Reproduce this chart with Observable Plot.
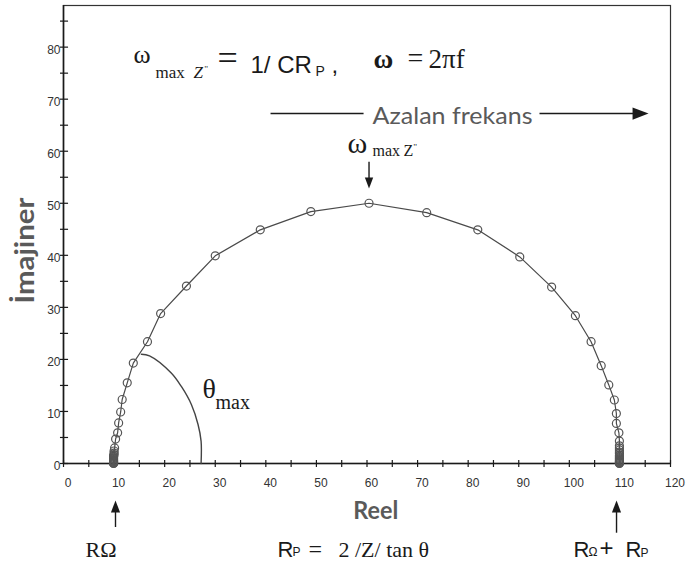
<!DOCTYPE html>
<html>
<head>
<meta charset="utf-8">
<script src="https://cdn.jsdelivr.net/npm/d3@7"></script>
<script src="https://cdn.jsdelivr.net/npm/@observablehq/plot@0.6"></script>
<style>
  html, body { margin: 0; padding: 0; background: #fff; }
</style>
</head>
<body>
<div id="chart"></div>
<script>
// Nyquist (Cole) plot of a parallel RC circuit with series resistance:
// imaginary impedance against real impedance, high frequency on the left.

// Measured points, in order of decreasing frequency
const reel = [
  9.9, 9.9, 9.9, 9.9, 9.9, 9.9, 9.9, 9.9, 9.9, 9.9, 9.9, 9.9, 9.9, 9.9, 10.0, 10.0, 10.0,
  10.1, 10.3, 10.7, 10.9, 11.3, 11.6, 12.6, 13.8, 16.6, 19.2,
  24.3, 30.0, 38.9, 48.9, 60.4,
  71.8, 81.9, 90.2, 96.5, 101.2,
  104.3, 106.3, 107.8, 108.9, 109.3, 109.3, 109.8, 109.9,
  109.9, 109.9, 109.9, 109.9, 109.9, 109.9, 109.9, 109.9, 109.9, 109.9, 109.9, 109.9, 109.9, 109.9, 109.9, 109.9
];
const imajiner = [
  0, 0.05, 0.1, 0.2, 0.3, 0.4, 0.5, 0.6, 0.75, 0.9, 1.05, 1.2, 1.35, 1.5, 1.7, 2.0, 2.4,
  3.0, 4.7, 5.9, 7.8, 9.9, 12.3, 15.5, 19.3, 23.4, 28.8,
  34.1, 39.9, 44.9, 48.4, 50.0,
  48.2, 44.9, 39.7, 33.9, 28.4,
  23.4, 18.8, 15.1, 12.2, 9.6, 7.7, 5.9, 4.3,
  3.4, 3.0, 2.6, 2.2, 1.9, 1.6, 1.35, 1.1, 0.9, 0.7, 0.55, 0.4, 0.3, 0.15, 0.05, 0
];

// Hand-drawn arc marking the phase angle θmax
const thetaReel = [15.4, 17.0, 21.3, 23.3, 25.3, 26.6, 27.2, 27.2];
const thetaImaj = [21.0, 20.7, 17.4, 14.8, 11.3, 7.5, 4.3, 0];

// Axes
const xTickLabels = [0, 10, 20, 30, 40, 50, 60, 70, 80, 90, 100, 110, 120];
const xTicks = [0, 5, 10, 15, 20, 25, 30, 35, 40, 45, 50, 55, 60, 65, 70, 75, 80, 85, 90, 95, 100, 105, 110, 115, 120];
const yTickLabels = [0, 10, 20, 30, 40, 50, 60, 70, 80];
const yTicks = [0, 5, 10, 15, 20, 25, 30, 35, 40, 45, 50, 55, 60, 65, 70, 75, 80, 85];

const points = reel.map((x, i) => ({x, y: imajiner[i]}));
const theta = thetaReel.map((x, i) => ({x, y: thetaImaj[i]}));

const serif = "'Liberation Serif', 'Times New Roman', serif";
const sans = "'Liberation Sans', Arial, sans-serif";
const humanist = "Lato, 'Open Sans', sans-serif";
const grey = "#5a5a5a";
const ink = "#1a1a1a";

// Rich-text annotations: anchor in data units, pieces offset in pixels from the anchor baseline
const notes = [
  {key: "omegaMax", x: 13.84, y: 75.12, segs: [
    {t: "ω", ox: 0, oy: -10, font: serif, size: 26},
    {t: "max", ox: 22, oy: 5, font: serif, size: 17},
    {t: "Z", ox: 60, oy: 5, font: serif, size: 17, style: "italic"},
    {t: "''", ox: 71, oy: -1, font: serif, size: 9},
    {t: "=", ox: 84, oy: -3, font: serif, size: 36},
    {t: "1/ CR", ox: 117, oy: 0, font: sans, size: 24},
    {t: "P", ox: 182, oy: 3, font: sans, size: 14},
    {t: ",", ox: 198, oy: 0, font: sans, size: 24}
  ]},
  {key: "omegaDef", x: 61.29, y: 76.08, segs: [
    {t: "ω", ox: 0, oy: 0, font: serif, size: 27, weight: "bold"},
    {t: "=", ox: 34, oy: -1, font: serif, size: 28},
    {t: "2πf", ox: 55, oy: 0, font: serif, size: 27}
  ]},
  {key: "azalan", x: 61.09, y: 65.3, segs: [
    {t: "Azalan frekans", ox: 0, oy: 0, font: humanist, size: 24, fill: grey, len: 160}
  ]},
  {key: "omegaPeak", x: 56.15, y: 59.75, segs: [
    {t: "ω", ox: 0, oy: 0, font: serif, size: 30},
    {t: "max", ox: 25, oy: 3, font: serif, size: 16},
    {t: "Z", ox: 56, oy: 3, font: serif, size: 16},
    {t: "''", ox: 66, oy: -3, font: serif, size: 9}
  ]},
  {key: "thetaMax", x: 27.48, y: 12.68, segs: [
    {t: "θ", ox: 0, oy: 0, font: serif, size: 28},
    {t: "max", ox: 13, oy: 11, font: serif, size: 20}
  ]},
  {key: "rOhm", x: 4.35, y: -17.87, segs: [
    {t: "RΩ", ox: 0, oy: 0, font: serif, size: 22}
  ]},
  {key: "rPol", x: 42.3, y: -17.87, segs: [
    {t: "R", ox: 0, oy: 0, font: sans, size: 22},
    {t: "P", ox: 15, oy: -1, font: sans, size: 12},
    {t: "=", ox: 31, oy: 0, font: serif, size: 24},
    {t: "2 /Z/ tan θ", ox: 61, oy: 0, font: serif, size: 22}
  ]},
  {key: "rSum", x: 100.83, y: -17.87, segs: [
    {t: "R", ox: 0, oy: 0, font: sans, size: 22},
    {t: "Ω", ox: 15, oy: -1, font: sans, size: 12},
    {t: "+", ox: 26, oy: -1, font: sans, size: 24},
    {t: "R", ox: 52, oy: 0, font: sans, size: 22},
    {t: "P", ox: 67, oy: 0, font: sans, size: 12}
  ]},
  {key: "reelLabel", x: 57.3, y: -10.57, segs: [
    {t: "Reel", ox: 0, oy: 0, font: humanist, size: 25, weight: "bold", fill: grey, len: 45}
  ]}
];
const yLabelNote = {key: "imajLabel", x: -5.93, y: 30.74, segs: [
  {t: "İmajiner", ox: 0, oy: 0, font: humanist, size: 27, weight: "bold", fill: grey, len: 106}
]};

// Arrowhead symbols, tip at the dot position
function head(dir) {
  return {
    draw(ctx, size) {
      const r = Math.sqrt(size / Math.PI), L = 2 * r, w = 0.76 * r;
      const pts = dir === "up" ? [[0, 0], [w, L], [-w, L]]
        : dir === "down" ? [[0, 0], [w, -L], [-w, -L]]
        : [[0, 0], [-L, w], [-L, -w]];
      ctx.moveTo(...pts[0]); ctx.lineTo(...pts[1]); ctx.lineTo(...pts[2]); ctx.closePath();
    }
  };
}

const shafts = [
  {x1: 40.93, y1: 67.24, x2: 59.32, y2: 67.24},
  {x1: 94.1, y1: 67.24, x2: 114.5, y2: 67.24},
  {x1: 60.4, y1: 58.0, x2: 60.4, y2: 54.0},
  {x1: 10.28, y1: -12.2, x2: 10.28, y2: -8.0},
  {x1: 109.33, y1: -13.3, x2: 109.33, y2: -8.0}
];
const tips = [
  {x: 115.66, y: 67.24, dir: "right", r: 8},
  {x: 60.4, y: 52.83, dir: "down", r: 5.5},
  {x: 10.28, y: -7.1, dir: "up", r: 6},
  {x: 109.33, y: -7.1, dir: "up", r: 6}
];

const chart = Plot.plot({
  width: 692,
  height: 565,
  marginLeft: 63,
  marginRight: 22,
  marginTop: 5,
  marginBottom: 102,
  style: {fontFamily: sans, background: "#fff"},
  x: {domain: [0, 120]},
  y: {domain: [0, 88]},
  marks: [
    Plot.frame({stroke: "#333", strokeWidth: 1.2}),
    Plot.axisX({ticks: xTickLabels, tickSize: 0, tickPadding: 15, dx: 4.5, fontSize: 12, color: "#333", label: null}),
    Plot.axisY({ticks: yTickLabels, tickSize: 0, tickPadding: 3, dy: 3, fontSize: 12, color: "#333", label: null}),
    Plot.ruleX(xTicks, {x: d => d, y1: -0.77, y2: 0.58, stroke: ink, strokeWidth: 1.2}),
    Plot.ruleY(yTicks, {y: d => d, x1: -0.6, x2: 1.0, stroke: ink, strokeWidth: 1.2}),
    Plot.ruleY([0], {stroke: ink, strokeWidth: 1.6}),
    Plot.ruleX([0], {stroke: ink, strokeWidth: 1.6}),
    Plot.line(theta, {x: "x", y: "y", curve: "catmull-rom", stroke: "#444", strokeWidth: 1.4}),
    Plot.line(points, {x: "x", y: "y", stroke: "#4a4a4a", strokeWidth: 1.2}),
    Plot.dot(points, {x: "x", y: "y", r: 4, stroke: "#555", strokeWidth: 1.2, fill: "none"}),
    Plot.link(shafts, {x1: "x1", y1: "y1", x2: "x2", y2: "y2", stroke: ink, strokeWidth: 1.4}),
    ...tips.map(d => Plot.dot([d], {x: "x", y: "y", r: d.r, symbol: head(d.dir), fill: ink, stroke: "none"})),
    Plot.text(notes, {x: "x", y: "y", text: "key", textAnchor: "start"}),
    Plot.text([yLabelNote], {x: "x", y: "y", text: "key", textAnchor: "start", rotate: -90})
  ]
});

// Replace each annotation key with its typeset pieces
const byKey = new Map([...notes, yLabelNote].map(n => [n.key, n]));
const NS = "http://www.w3.org/2000/svg";
for (const el of chart.querySelectorAll("text")) {
  const n = byKey.get(el.textContent);
  if (!n) continue;
  el.removeAttribute("y");
  el.removeAttribute("dy");
  el.textContent = "";
  for (const s of n.segs) {
    const ts = document.createElementNS(NS, "tspan");
    ts.setAttribute("x", s.ox);
    ts.setAttribute("y", s.oy);
    ts.setAttribute("font-family", s.font);
    ts.setAttribute("font-size", s.size);
    ts.setAttribute("font-weight", s.weight || "normal");
    ts.setAttribute("font-style", s.style || "normal");
    ts.setAttribute("fill", s.fill || ink);
    if (s.len) { ts.setAttribute("textLength", s.len); ts.setAttribute("lengthAdjust", "spacingAndGlyphs"); }
    ts.textContent = s.t;
    el.appendChild(ts);
  }
}

document.getElementById("chart").appendChild(chart);
</script>
</body>
</html>
